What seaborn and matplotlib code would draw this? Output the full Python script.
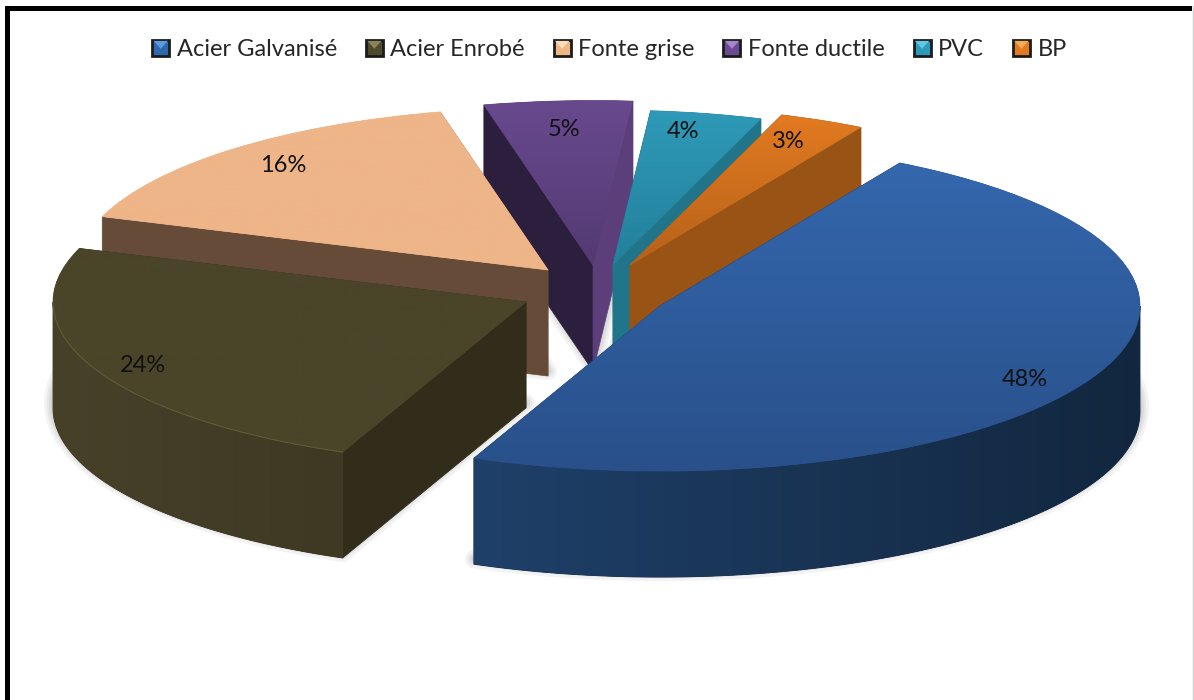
import numpy as np
import matplotlib
matplotlib.use('Agg')
import matplotlib.pyplot as plt
from matplotlib.legend_handler import HandlerBase
from matplotlib.lines import Line2D
from matplotlib.patches import Patch, Polygon, Rectangle
import seaborn as sns

# data
materials = ['Acier Galvanisé', 'Acier Enrobé', 'Fonte grise', 'Fonte ductile', 'PVC', 'BP']
shares = [48, 24, 16, 5, 4, 3]

# layout, in pixels of the 1194x700 figure
W, H = 1194, 700
SQUASH = 0.344
DEPTH = 106
START = 60
apex_x = [660, 526, 548, 593, 613, 630]
apex_y = [306, 302, 270, 265, 265, 265]
radius = [480, 473, 472, 478, 450, 462]
label_x = [1025, 143, 283, 564, 683, 788]
label_y = [380, 365, 165, 129, 132, 142]
draw_order = [3, 4, 5, 2, 1, 0]

# colours: top gradient (far, near), wall gradient (left, right), the two cut faces
top_cols = [('#3467ad', '#29508a'), ('#4a4429', '#4a4429'), ('#eeb588', '#eeb588'),
            ('#68498e', '#533a73'), ('#2e9ab8', '#23809a'), ('#e27a20', '#b6621a')]
wall_cols = [('#1f4069', '#12273f'), ('#47412a', '#3f3823'), ('#664b39', '#664b39'),
             ('#5b3e7a', '#5b3e7a'), ('#21758b', '#21758b'), ('#985315', '#985315')]
start_face = ['#1f4069', '#322d1a', '#664b39', '#2c1f3d', '#21758b', '#985315']
end_face = ['#1f4069', '#322d1a', '#664b39', '#5b3e7a', '#21758b', '#985315']
swatch_cols = ['#2f66ad', '#4f4a2c', '#efb688', '#6a4a92', '#2c9ab8', '#e27a20']
swatch_tips = ['#5c9be0', '#8a8458', '#fbdcbc', '#a585cc', '#5fc8e2', '#f7aa58']

sns.set_theme(style='white')
plt.rcParams['font.family'] = ['Lato', 'DejaVu Sans']


def to_y(py):
    return (H - py) / SQUASH


def rim(i, t1, t2, drop=0):
    # points along the outer edge of a slice, angle in degrees
    t = np.radians(np.linspace(t1, t2, 80))
    return (apex_x[i] + radius[i] * np.cos(t),
            to_y(apex_y[i] + drop) + radius[i] * np.sin(t))


def shade(ax, xs, ys, cols, z, horizontal=False):
    # polygon filled with a gradient, clipped image on top of the patch
    patch = Polygon(np.column_stack([xs, ys]), closed=True, fc=cols[1], ec=cols[1], lw=0.6, zorder=z)
    ax.add_patch(patch)
    cmap = sns.blend_palette(cols, as_cmap=True)
    grad = np.linspace(0, 1, 256)
    grad = grad[None, :] if horizontal else grad[:, None]
    im = ax.imshow(grad, cmap=cmap, aspect='auto', zorder=z + 0.1, origin='upper',
                   extent=(min(xs), max(xs), min(ys), max(ys)))
    im.set_clip_path(patch)


class SwatchHandler(HandlerBase):
    # small square with dark border and a lighter triangle at the top
    def create_artists(self, legend, orig, x0, y0, width, height, fontsize, trans):
        box = Rectangle((x0, y0), width, height, fc=orig.get_facecolor(), ec='#1c1c1c', lw=2, transform=trans)
        tip = Polygon([(x0 + 1, y0 + height - 1), (x0 + width - 1, y0 + height - 1), (x0 + width / 2, y0 + height * 0.45)],
                      closed=True, fc=orig.get_edgecolor(), ec='none', transform=trans)
        return [box, tip]


fig = plt.figure(figsize=(W / 100, H / 100), dpi=100, facecolor='white')
ax = fig.add_axes([0, 0, 1, 1])
ax.set_autoscale_on(False)

angles = START - np.cumsum([0] + shares) * 3.6

# soft shadow below every slice
for i in draw_order:
    rx, ry = rim(i, angles[i], angles[i + 1], drop=DEPTH - 5)
    xs = np.r_[apex_x[i], rx]
    ys = np.r_[to_y(apex_y[i] + DEPTH - 5), ry]
    for lw in (13, 9, 6, 3):
        ax.fill(xs, ys, fc='none', ec='#555555', alpha=0.07, lw=lw, joinstyle='round', zorder=1)

z = 2
for i in draw_order:
    t1, t2 = angles[i], angles[i + 1]
    x1, y1 = rim(i, t1, t2)
    x2, y2 = rim(i, t1, t2, drop=DEPTH)

    # the two straight cut faces
    ax0, ay0 = apex_x[i], to_y(apex_y[i])
    ay1 = to_y(apex_y[i] + DEPTH)
    ax.fill([ax0, x1[0], x2[0], ax0], [ay0, y1[0], y2[0], ay1], fc=start_face[i], ec=start_face[i], lw=0.5, zorder=z)
    ax.fill([ax0, x1[-1], x2[-1], ax0], [ay0, y1[-1], y2[-1], ay1], fc=end_face[i], ec=end_face[i], lw=0.5, zorder=z)
    z += 1

    # outer wall, only the part that faces the viewer
    w1, w2 = min(t1, 0), max(t2, -180)
    if w1 > w2:
        wx1, wy1 = rim(i, w1, w2)
        wx2, wy2 = rim(i, w1, w2, drop=DEPTH)
        shade(ax, np.r_[wx1, wx2[::-1]], np.r_[wy1, wy2[::-1]], wall_cols[i], z, horizontal=True)
    z += 1

    # top of the slice
    wedges, _ = ax.pie([shares[i], 100 - shares[i]], startangle=t1, counterclock=False,
                       center=(ax0, ay0), radius=radius[i], colors=[top_cols[i][1], 'none'],
                       wedgeprops={'lw': 0.5, 'ec': top_cols[i][1]}, frame=True)
    wedges[0].set_zorder(z)
    wedges[1].set_visible(False)
    ax.set_xlim(0, W)
    ax.set_ylim(0, H / SQUASH)
    ax.set_aspect('auto')
    z += 1
    bb_y = np.r_[y1, ay0]
    cmap = sns.blend_palette(top_cols[i], as_cmap=True)
    im = ax.imshow(np.linspace(0, 1, 256)[:, None], cmap=cmap, aspect='auto', origin='upper', zorder=z,
                   extent=(min(x1.min(), ax0), max(x1.max(), ax0), bb_y.min(), bb_y.max()))
    im.set_clip_path(wedges[0])
    z += 1

    # thin light line on the front rim of the olive slice
    if i == 1:
        hx, hy = rim(i, -180, t1)
        ax.plot(hx, hy, color='#625a34', lw=0.8, zorder=z)
    z += 1

    ax.text(label_x[i], to_y(label_y[i]), f'{shares[i]}%', ha='center', va='center',
            fontsize=17, color='#111111', zorder=50)

ax.set_xlim(0, W)
ax.set_ylim(0, H / SQUASH)
ax.set_aspect('auto')
ax.axis('off')

# legend
handles = [Patch(fc=c, ec=t) for c, t in zip(swatch_cols, swatch_tips)]
ax.legend(handles, materials, loc='center', bbox_to_anchor=(609.5 / W, 1 - 50 / H), ncol=6, frameon=False,
          fontsize=17, handlelength=0.72, handleheight=0.72, handletextpad=0.32, columnspacing=1.22,
          labelcolor='#262626', handler_map={Patch: SwatchHandler()})

# picture frame
fig.add_artist(Rectangle((5 / W, 0), 5 / W, 1 - 6 / H, transform=fig.transFigure, fc='black', ec='none'))
fig.add_artist(Rectangle((5 / W, 1 - 11 / H), 1187 / W, 5 / H, transform=fig.transFigure, fc='black', ec='none'))
fig.add_artist(Line2D([1193 / W, 1193 / W], [0, 1 - 6 / H], transform=fig.transFigure, color='#d0d0d0', lw=1))

fig.savefig('out.png', dpi=100)
